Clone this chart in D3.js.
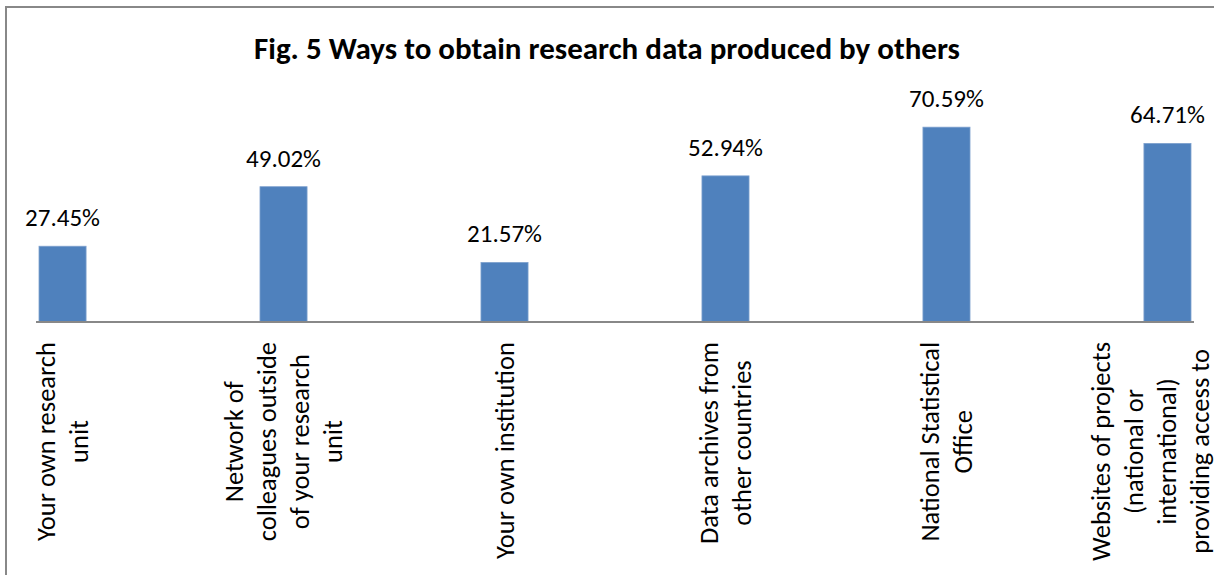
<!DOCTYPE html>
<html>
<head>
<meta charset="utf-8">
<script src="https://cdn.jsdelivr.net/npm/d3@7"></script>
<style>
  html, body { margin: 0; padding: 0; background: #fff; }
  svg { display: block; }
  .title { font-family: Calibri, Carlito, Lato, sans-serif; font-weight: bold; font-size: 31px; fill: #000; }
  .value { font-family: Calibri, Carlito, Lato, sans-serif; font-size: 25px; fill: #000; }
  .cat { font-family: Calibri, Carlito, Lato, sans-serif; font-size: 26.5px; fill: #000; }
</style>
</head>
<body>
<svg id="chart"></svg>
<script>
// DATA
const categories = [
  ["Your own research", "unit"],
  ["Network of", "colleagues outside", "of your research", "unit"],
  ["Your own institution"],
  ["Data archives from", "other countries"],
  ["National Statistical", "Office"],
  ["Websites of projects", "(national or", "international)", "providing access to", "data"]
];
const values = [27.45, 49.02, 21.57, 52.94, 70.59, 64.71];
const titleText = "Fig. 5 Ways to obtain research data produced by others";

// SET VARIABLES
const canvasWidth = 1214;
const canvasHeight = 575;
const axisY = 322;
const lineH = 33;
const keys = categories.map(d => d.join(" "));

const svg = d3.select('#chart')
              .attr('width', canvasWidth)
              .attr('height', canvasHeight);

// frame (right and bottom edges fall outside the picture)
svg.append('rect')
   .attr('x', 6).attr('y', 7)
   .attr('width', 1300).attr('height', 700)
   .attr('fill', 'none')
   .attr('stroke', '#888')
   .attr('stroke-width', 2);

const x = d3.scaleBand()
            .domain(keys)
            .range([36, 1194])
            .paddingInner(0.787)
            .paddingOuter(0.0136);
const y = d3.scaleLinear()
            .domain([0, 100])
            .range([axisY, 46]);

svg.append('text')
   .attr('class', 'title')
   .attr('x', canvasWidth / 2)
   .attr('y', 59)
   .attr('text-anchor', 'middle')
   .text(titleText);

// bars
svg.selectAll('.bar')
   .data(values)
   .enter()
   .append('rect')
     .attr('class', 'bar')
     .attr('x', (d, i) => x(keys[i]))
     .attr('y', d => y(d))
     .attr('width', x.bandwidth())
     .attr('height', d => y(0) - y(d))
     .attr('fill', '#4F81BD')
     .attr('stroke', '#7DA0CE')
     .attr('stroke-width', 0.8);

// value labels
svg.selectAll('.value')
   .data(values)
   .enter()
   .append('text')
     .attr('class', 'value')
     .attr('x', (d, i) => x(keys[i]) + x.bandwidth() / 2)
     .attr('y', d => y(d) - 20)
     .attr('text-anchor', 'middle')
     .text(d => d.toFixed(2) + '%');

// x axis line
svg.append('line')
   .attr('x1', 36).attr('x2', 1194)
   .attr('y1', axisY).attr('y2', axisY)
   .attr('stroke', '#888')
   .attr('stroke-width', 2);

// category labels, rotated, lines centred, top of longest line 20px under the axis
const catGroups = svg.selectAll('.catg')
   .data(categories)
   .enter()
   .append('g')
     .attr('class', 'catg');

catGroups.each(function(lines, i) {
  const g = d3.select(this);
  const cx = x(keys[i]) + x.bandwidth() / 2;
  const n = lines.length;
  const items = lines.map((t, j) => ({t, lx: cx + (j - (n - 1) / 2) * lineH + 9}))
                     .filter(d => d.lx < canvasWidth);   // lines beyond the right edge are cropped away
  const texts = g.selectAll('text')
    .data(items)
    .enter()
    .append('text')
      .attr('class', 'cat')
      .attr('text-anchor', 'middle')
      .text(d => d.t);
  const maxW = d3.max(texts.nodes(), nd => nd.getComputedTextLength());
  const midY = axisY + 20 + maxW / 2;
  texts.attr('transform', d => `translate(${d.lx},${midY}) rotate(-90)`);
});
</script>
</body>
</html>
